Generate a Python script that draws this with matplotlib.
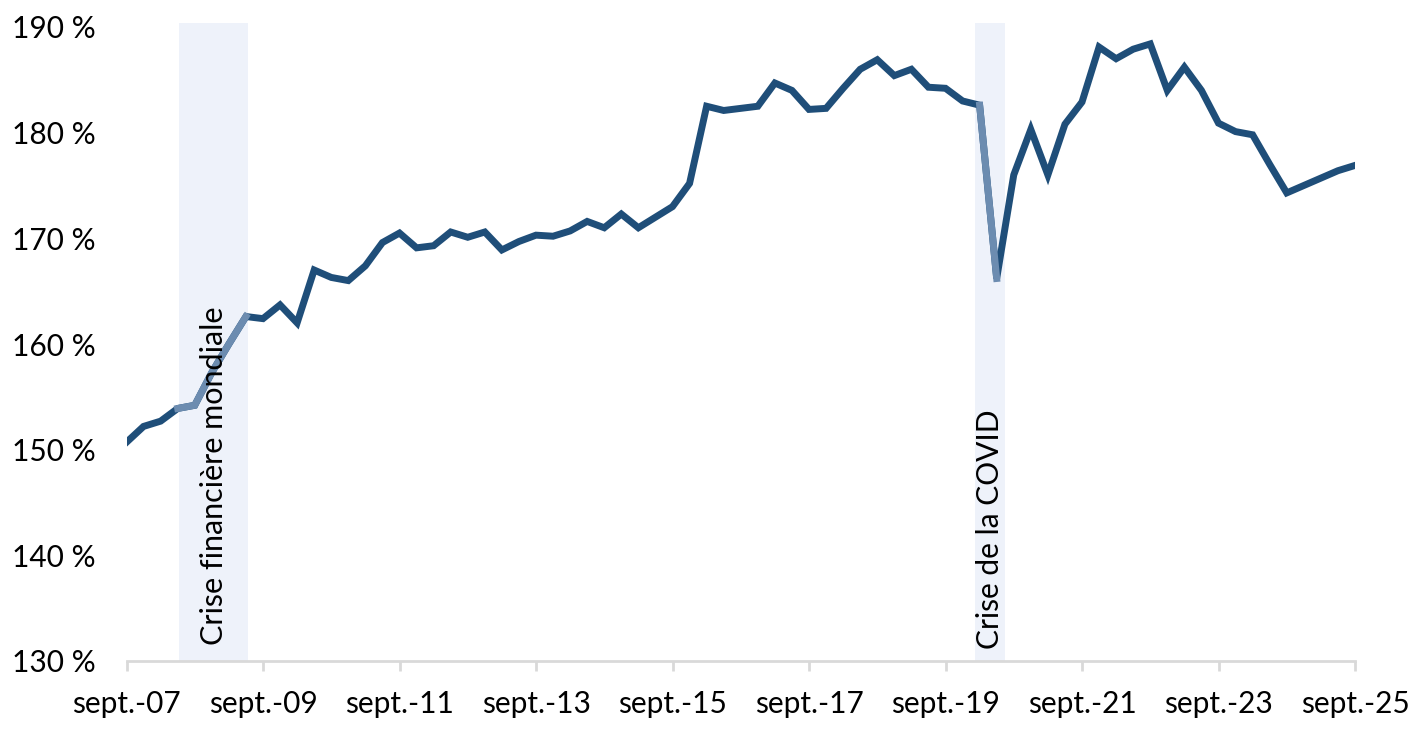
import matplotlib
matplotlib.use("Agg")
import matplotlib.pyplot as plt
import numpy as np

plt.rcParams['font.family'] = ['Lato', 'DejaVu Sans']

# Quarterly series, sept.-07 .. sept.-25 (73 quarters)
values = [150.7, 152.2, 152.7, 153.9, 154.2, 157.3, 160.0, 162.6, 162.4, 163.7,
          162.0, 167.0, 166.3, 166.0, 167.4, 169.6, 170.5, 169.1, 169.3, 170.6,
          170.1, 170.6, 168.9, 169.7, 170.3, 170.2, 170.7, 171.6, 171.0, 172.3,
          171.0, 172.0, 173.0, 175.2, 182.5, 182.1, 182.3, 182.5, 184.7, 184.0,
          182.2, 182.3, 184.2, 186.0, 186.9, 185.4, 186.0, 184.3, 184.2, 183.0,
          182.6, 166.2, 176.0, 180.3, 176.0, 180.8, 182.9, 188.1, 187.0, 187.9,
          188.4, 184.0, 186.2, 184.0, 180.9, 180.1, 179.8, 177.0, 174.3, 175.0,
          175.7, 176.4, 176.9]
tick_labels = ['sept.-07', 'sept.-09', 'sept.-11', 'sept.-13', 'sept.-15',
               'sept.-17', 'sept.-19', 'sept.-21', 'sept.-23', 'sept.-25']
crisis_labels = ['Crise financière mondiale', 'Crise de la COVID']
crisis_start = [3.1, 49.7]
crisis_end = [7.1, 51.5]
# index ranges of the line drawn in the lighter colour
light_ranges = [(3, 7), (50, 51)]

x = np.arange(len(values))
vals = np.array(values)

fig = plt.figure(figsize=(14.27, 7.38), dpi=100)
ax = fig.add_axes([126.5/1427, 77/738, (1355-126.5)/1427, 634/738])

dark = '#1F4E79'
light = '#6C8CB0'
shade = '#EEF2FA'

for s, e in zip(crisis_start, crisis_end):
    ax.fill_between([s, e], [130, 130], [190.4, 190.4], color=shade, lw=0,
                    zorder=0, clip_on=False)

ax.plot(x, vals, color=dark, lw=5.0, solid_joinstyle='miter', zorder=3)
for a, b in light_ranges:
    ax.plot(x[a:b+1], vals[a:b+1], color=light, lw=5.0, zorder=4,
            solid_joinstyle='miter')

ax.text(5.15, 131.5, crisis_labels[0], rotation=90, ha='center', va='bottom',
        fontsize=22, color='black', zorder=5)
ax.text(50.6, 131.1, crisis_labels[1], rotation=90, ha='center', va='bottom',
        fontsize=21.5, color='black', zorder=5)

ax.set_xlim(0, 72)
ax.set_ylim(130, 190)
ax.set_xticks(np.arange(0, 73, 8))
ax.set_xticklabels(tick_labels)
ax.set_yticks(np.arange(130, 191, 10))
ax.set_yticklabels([f'{v} %' for v in range(130, 191, 10)])

for sp in ['top', 'right', 'left']:
    ax.spines[sp].set_visible(False)
ax.spines['bottom'].set_color('#D9D9D9')
ax.spines['bottom'].set_linewidth(2)
ax.tick_params(axis='x', length=7, width=2, color='#D9D9D9', pad=14,
               labelsize=21.5)
ax.tick_params(axis='y', length=0, pad=22, labelsize=21.5)

fig.savefig('out.png', dpi=100)
